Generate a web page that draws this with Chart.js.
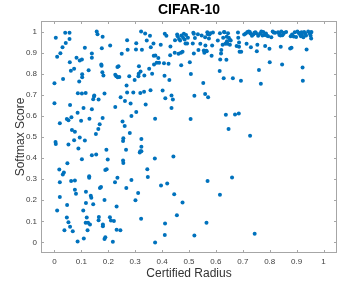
<!DOCTYPE html>
<html>
<head>
<meta charset="utf-8">
<script src="https://cdn.jsdelivr.net/npm/chart.js@4"></script>
<style>
  html, body { margin: 0; padding: 0; background: #fff; }
  canvas { display: block; }
</style>
</head>
<body>
<canvas id="c" width="359" height="283"></canvas>
<script>
// ── Data (certified radius, softmax score) ────────────────────────────────
const radius = [
  0.0, 0.0, 0.005, 0.004, 0.005, 0.01, 0.01, 0.02, 0.02, 0.02, 0.018, 0.022, 0.03, 0.032,
  0.031, 0.035, 0.037, 0.04, 0.042, 0.046, 0.048, 0.047, 0.046, 0.052, 0.052, 0.052,
  0.056, 0.056, 0.057, 0.058, 0.058, 0.061, 0.063, 0.062, 0.065, 0.068, 0.073, 0.076,
  0.073, 0.076, 0.076, 0.08, 0.082, 0.086, 0.087, 0.086, 0.089, 0.092, 0.094, 0.094,
  0.099, 0.102, 0.102, 0.102, 0.103, 0.103, 0.107, 0.109, 0.108, 0.113, 0.113, 0.116,
  0.117, 0.117, 0.116, 0.12, 0.123, 0.125, 0.127, 0.129, 0.129, 0.13, 0.132, 0.135,
  0.137, 0.139, 0.139, 0.139, 0.139, 0.144, 0.144, 0.147, 0.148, 0.154, 0.155, 0.157,
  0.16, 0.163, 0.164, 0.164, 0.165, 0.168, 0.169, 0.173, 0.174, 0.175, 0.176, 0.178,
  0.179, 0.179, 0.18, 0.18, 0.182, 0.186, 0.186, 0.186, 0.189, 0.189, 0.193, 0.194,
  0.198, 0.206, 0.207, 0.21, 0.217, 0.221, 0.225, 0.226, 0.226, 0.23, 0.231, 0.231,
  0.234, 0.234, 0.235, 0.238, 0.241, 0.245, 0.246, 0.25, 0.253, 0.255, 0.256, 0.255,
  0.256, 0.261, 0.262, 0.266, 0.267, 0.268, 0.27, 0.27, 0.272, 0.278, 0.28, 0.283,
  0.286, 0.286, 0.293, 0.298, 0.301, 0.303, 0.304, 0.304, 0.311, 0.312, 0.313, 0.314,
  0.317, 0.319, 0.319, 0.32, 0.322, 0.323, 0.323, 0.323, 0.322, 0.325, 0.333, 0.334,
  0.337, 0.339, 0.343, 0.345, 0.347, 0.352, 0.355, 0.357, 0.358, 0.363, 0.368, 0.369,
  0.37, 0.373, 0.374, 0.374, 0.375, 0.38, 0.386, 0.389, 0.395, 0.396, 0.402, 0.407,
  0.409, 0.41, 0.41, 0.411, 0.412, 0.416, 0.419, 0.424, 0.427, 0.43, 0.431, 0.435,
  0.435, 0.44, 0.442, 0.445, 0.447, 0.448, 0.455, 0.456, 0.458, 0.461, 0.463, 0.467,
  0.47, 0.471, 0.472, 0.476, 0.476, 0.478, 0.481, 0.484, 0.487, 0.489, 0.493, 0.496,
  0.503, 0.506, 0.507, 0.514, 0.516, 0.518, 0.518, 0.52, 0.52, 0.522, 0.533, 0.535,
  0.542, 0.547, 0.553, 0.555, 0.557, 0.56, 0.56, 0.561, 0.564, 0.566, 0.568, 0.57,
  0.569, 0.565, 0.571, 0.574, 0.576, 0.579, 0.584, 0.586, 0.589, 0.607, 0.614, 0.615,
  0.615, 0.616, 0.619, 0.62, 0.625, 0.627, 0.629, 0.63, 0.632, 0.635, 0.637, 0.639,
  0.64, 0.641, 0.643, 0.645, 0.647, 0.648, 0.652, 0.652, 0.655, 0.66, 0.663, 0.671,
  0.677, 0.682, 0.683, 0.685, 0.686, 0.686, 0.688, 0.694, 0.693, 0.705, 0.711, 0.714,
  0.717, 0.722, 0.726, 0.727, 0.728, 0.73, 0.734, 0.739, 0.743, 0.744, 0.747, 0.749,
  0.752, 0.754, 0.757, 0.76, 0.764, 0.767, 0.769, 0.773, 0.776, 0.78, 0.783, 0.786,
  0.789, 0.794, 0.799, 0.8, 0.806, 0.811, 0.815, 0.82, 0.831, 0.835, 0.836, 0.84,
  0.841, 0.843, 0.846, 0.847, 0.851, 0.853, 0.861, 0.876, 0.878, 0.881, 0.883, 0.889,
  0.893, 0.898, 0.903, 0.907, 0.912, 0.916, 0.918, 0.92, 0.922, 0.923, 0.925, 0.928,
  0.932, 0.935, 0.937, 0.943, 0.949, 0.952, 0.953, 0.954, 0.955
];
const score = [
  0.755, 0.66, 0.97, 0.476, 0.467, 0.151, 0.88, 0.565, 0.286, 0.215, 0.346, 0.897, 0.926, 0.775,
  0.322, 0.332, 0.058, 0.994, 0.946, 0.585, 0.376, 0.178, 0.118, 0.58, 0.464, 0.096,
  0.994, 0.965, 0.855, 0.652, 0.074, 0.814, 0.594, 0.291, 0.533, 0.053, 0.824, 0.294,
  0.484, 0.525, 0.25, 0.231, 0.876, 0.615, 0.708, 0.005, 0.445, 0.763, 0.863, 0.498,
  0.577, 0.706, 0.395, 0.868, 0.797, 0.783, 0.152, 0.019, 0.638, 0.923, 0.483, 0.709,
  0.241, 0.187, 0.093, 0.118, 0.058, 0.093, 0.816, 0.314, 0.307, 0.586, 0.085, 0.222,
  0.212, 0.896, 0.876, 0.632, 0.414, 0.181, 0.679, 0.692, 0.697, 0.514, 0.417, 1.0,
  0.987, 0.538, 0.678, 0.105, 0.121, 0.561, 0.258, 0.263, 0.844, 0.838, 0.921, 0.807,
  0.975, 0.59, 0.085, 0.077, 0.792, 0.706, 0.201, 0.016, 0.343, 0.025, 0.439, 0.347,
  0.393, 0.119, 0.934, 0.104, 0.003, 0.102, 0.285, 0.642, 0.795, 0.788, 0.17, 0.06,
  0.832, 0.307, 0.783, 0.835, 0.785, 0.058, 0.689, 0.895, 0.574, 0.481, 0.494, 0.388,
  0.377, 0.552, 0.671, 0.439, 0.258, 0.744, 0.711, 0.959, 0.914, 0.788, 0.519, 0.659,
  0.296, 0.6, 0.711, 0.77, 0.2, 0.915, 0.618, 0.945, 0.234, 0.788, 0.8, 0.835,
  0.426, 0.432, 0.709, 0.811, 1.0, 0.454, 0.491, 0.432, 0.112, 0.914, 0.714, 0.792,
  0.991, 0.654, 0.958, 0.347, 0.31, 0.824, 0.98, 0.722, 0.925, 0.8, 0.943, 0.885,
  0.844, 0.398, 0.586, 0.0, 0.887, 0.852, 0.874, 0.852, 0.937, 0.27, 0.72, 0.85,
  0.791, 0.989, 0.035, 0.09, 0.684, 0.98, 0.28, 0.847, 0.77, 0.888, 0.929, 0.697,
  0.637, 0.678, 0.407, 0.228, 0.899, 0.959, 0.129, 0.986, 0.978, 0.895, 0.965, 0.958,
  0.899, 0.84, 0.981, 0.904, 0.189, 0.97, 0.989, 0.962, 0.943, 0.984, 0.943, 0.97,
  0.855, 0.585, 0.799, 0.943, 0.994, 0.989, 0.896, 0.695, 0.033, 0.969, 0.987, 0.912,
  0.942, 0.981, 0.756, 0.91, 0.899, 0.973, 0.704, 0.934, 0.909, 0.906, 0.997, 0.987,
  0.291, 0.093, 0.689, 0.967, 0.986, 0.992, 0.885, 0.934, 0.995, 0.958, 0.813, 0.226,
  0.992, 0.868, 0.896, 0.912, 0.937, 0.97, 0.778, 0.998, 0.997, 0.942, 0.605, 0.866,
  0.975, 0.954, 0.942, 0.992, 0.538, 0.97, 0.937, 0.961, 0.958, 0.308, 0.778, 0.607,
  0.931, 0.995, 0.97, 0.612, 0.948, 0.928, 0.904, 0.904, 0.767, 0.986, 0.991, 0.942,
  0.998, 1.0, 0.998, 0.506, 0.991, 0.926, 0.98, 0.986, 0.994, 0.041, 0.997, 0.992,
  0.907, 0.937, 0.98, 0.818, 0.991, 0.753, 1.0, 0.981, 0.998, 0.984, 0.931, 0.991,
  0.981, 0.978, 0.918, 0.855, 0.973, 1.0, 0.995, 0.994, 0.997, 0.992, 0.984, 0.981,
  0.928, 1.0, 0.844, 0.983, 0.989, 0.994, 0.998, 0.92, 0.978, 0.923, 0.986, 0.976,
  0.997, 0.974, 1.0, 0.994, 0.987, 0.978, 0.997, 0.984, 0.829, 0.767, 0.973, 0.998,
  0.991, 0.981, 0.915, 1.0, 0.989, 0.98, 0.995, 0.967, 0.998
];
const xTicks = [0, 0.1, 0.2, 0.3, 0.4, 0.5, 0.6, 0.7, 0.8, 0.9, 1];
const yTicks = [0, 0.1, 0.2, 0.3, 0.4, 0.5, 0.6, 0.7, 0.8, 0.9, 1];

const points = radius.map((r, i) => ({ x: r, y: score[i] }));

const FONT = "'Liberation Sans', Arial, Helvetica, sans-serif";
const BOX = "#a6a6a6";
const TICKTXT = "#404040";

// ── MATLAB-style box with inward ticks, title on top ──────────────────────
const matlabBox = {
  id: "matlabBox",
  afterDraw(chart) {
    const { ctx, chartArea: a, scales } = chart;
    ctx.save();
    ctx.strokeStyle = BOX;
    ctx.lineWidth = 1;
    ctx.strokeRect(Math.round(a.left) + 0.5, Math.round(a.top) + 0.5,
                   Math.round(a.right - a.left) - 1, Math.round(a.bottom - a.top) - 1);
    const len = 3;
    ctx.beginPath();
    xTicks.forEach((v) => {
      const px = Math.round(scales.x.getPixelForValue(v)) + 0.5;
      ctx.moveTo(px, a.bottom); ctx.lineTo(px, a.bottom - len);
      ctx.moveTo(px, a.top); ctx.lineTo(px, a.top + len);
    });
    yTicks.forEach((v) => {
      const py = Math.round(scales.y.getPixelForValue(v)) + 0.5;
      ctx.moveTo(a.left, py); ctx.lineTo(a.left + len, py);
      ctx.moveTo(a.right, py); ctx.lineTo(a.right - len, py);
    });
    ctx.stroke();

    ctx.fillStyle = "#000";
    ctx.font = "bold 14px " + FONT;
    ctx.textAlign = "center";
    ctx.textBaseline = "middle";
    ctx.fillText("CIFAR-10", (a.left + a.right) / 2, 10.5);
    ctx.restore();
  },
};

new Chart(document.getElementById("c"), {
  type: "scatter",
  data: {
    datasets: [{
      data: points,
      backgroundColor: "#0072BD",
      borderWidth: 0,
      pointRadius: 2,
      pointHoverRadius: 2,
    }],
  },
  options: {
    responsive: false,
    animation: false,
    events: [],
    layout: { padding: { left: 13, right: 22, top: 21, bottom: 2 } },
    plugins: { legend: { display: false }, tooltip: { enabled: false } },
    scales: {
      x: {
        type: "linear",
        min: -0.05,
        max: 1.05,
        afterBuildTicks: (s) => { s.ticks = xTicks.map((v) => ({ value: v })); },
        afterFit: (s) => { s.height = 28; },
        grid: { display: false, drawTicks: false },
        border: { display: false },
        ticks: {
          color: TICKTXT,
          font: { family: FONT, size: 8 },
          padding: 4,
          maxRotation: 0,
          callback: (v) => String(Math.round(v * 10) / 10),
        },
        title: {
          display: true,
          text: "Certified Radius",
          color: "#333",
          font: { family: FONT, size: 12 },
          padding: { top: 0, bottom: 0 },
        },
      },
      y: {
        type: "linear",
        min: -0.05,
        max: 1.05,
        afterBuildTicks: (s) => { s.ticks = yTicks.map((v) => ({ value: v })); },
        afterFit: (s) => { s.width = 28; },
        grid: { display: false, drawTicks: false },
        border: { display: false },
        ticks: {
          color: TICKTXT,
          font: { family: FONT, size: 8 },
          padding: 4,
          callback: (v) => String(Math.round(v * 10) / 10),
        },
        title: {
          display: true,
          text: "Softmax Score",
          color: "#333",
          font: { family: FONT, size: 12 },
          padding: { top: 0, bottom: 0 },
        },
      },
    },
  },
  plugins: [matlabBox],
});
</script>
</body>
</html>
